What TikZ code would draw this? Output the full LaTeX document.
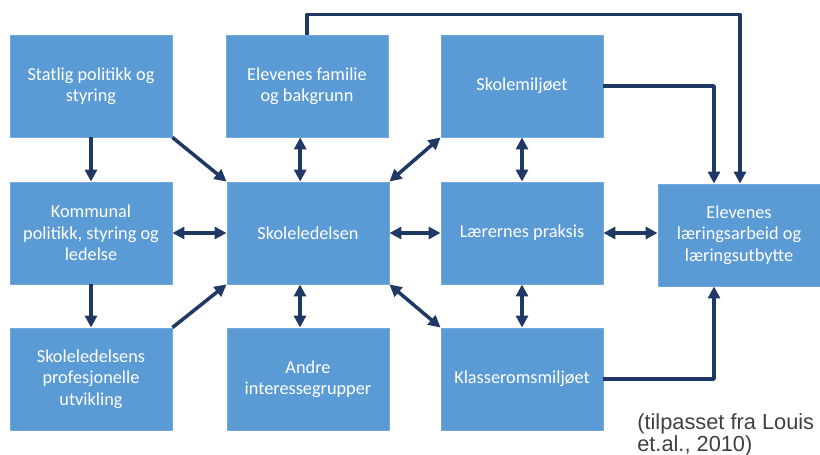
\documentclass[tikz,border=0pt]{standalone}
\usepackage{fontspec}
\newfontfamily\boksfont{Carlito}
\newfontfamily\kildefont{Liberation Sans}
\usetikzlibrary{arrows.meta}
\definecolor{boksblaa}{HTML}{5B9BD5}
\definecolor{kant}{HTML}{73A9DB}
\definecolor{pilblaa}{HTML}{203864}
\definecolor{kildegraa}{HTML}{404040}
\begin{document}
\begin{tikzpicture}[x=0.025cm, y=-0.025cm, line join=round,
	boks/.style={draw=kant, line width=0.6pt, fill=boksblaa, text=white, align=center,
		minimum width=4.05cm, minimum height=2.55cm, inner sep=2pt,
		font=\boksfont\fontsize{13pt}{15.3pt}\selectfont},
	pil/.style={draw=pilblaa, line width=2.5pt, -{Triangle[length=0.3cm, width=0.3cm]}},
	pil2/.style={draw=pilblaa, line width=2.5pt, {Triangle[length=0.3cm, width=0.3cm]}-{Triangle[length=0.3cm, width=0.3cm]}}]
	\useasboundingbox (0,0) rectangle (820,454);
	
	\node[boks] (stat) at (91,86) {Statlig politikk og\\styring};
	\node[boks] (fam) at (307,86) {Elevenes familie\\og bakgrunn};
	\node[boks] (miljo) at (522,86) {Skolemiljøet};
	\node[boks] (komm) at (91,233) {Kommunal\\politikk, styring og\\ledelse};
	\node[boks] (led) at (308,233) {Skoleledelsen};
	\node[boks] (prax) at (522,233) {Lærernes praksis};
	\node[boks] (elev) at (739,235) {Elevenes\\læringsarbeid og\\læringsutbytte};
	\node[boks] (prof) at (91,379) {Skoleledelsens\\profesjonelle\\utvikling};
	\node[boks] (andre) at (308,379) {Andre\\interessegrupper};
	\node[boks] (klasse) at (522,379) {Klasseromsmiljøet};
	
	\node[anchor=north west, align=left, text=kildegraa, inner sep=0pt,
		font=\kildefont\fontsize{15.5pt}{15.8pt}\selectfont] (kilde) at (637,413)
		{(tilpasset fra Louis\\et.al., 2010)};
	
	\draw[pil] (stat) -- (komm);
	\draw[pil] (komm) -- (prof);
	\draw[pil] (stat.south east) -- (led.north west);
	\draw[pil] (prof.north east) -- (led.south west);
	\draw[pil2] (komm) -- (led);
	\draw[pil2] ([xshift=-0.17cm]fam.south) -- ([xshift=-0.17cm]fam.south |- led.north);
	\draw[pil2] ([xshift=-0.2cm]led.south) -- ([xshift=-0.2cm]led.south |- andre.north);
	\draw[pil2] (led.north east) -- (miljo.south west);
	\draw[pil2] (led.south east) -- (klasse.north west);
	\draw[pil2] (led) -- (prax);
	\draw[pil2] (miljo) -- (prax);
	\draw[pil2] (prax) -- (klasse);
	\draw[pil2] (prax.east) -- (prax.east -| elev.west);
	
	\draw[pil] (fam.north) -- ++(0,-20) -| ([xshift=0.025cm]elev.north);
	\draw[pil] (miljo.east) -| ([xshift=-0.625cm]elev.north);
	\draw[pil] (klasse.east) -| ([xshift=-0.625cm]elev.south);
\end{tikzpicture}
\end{document}
